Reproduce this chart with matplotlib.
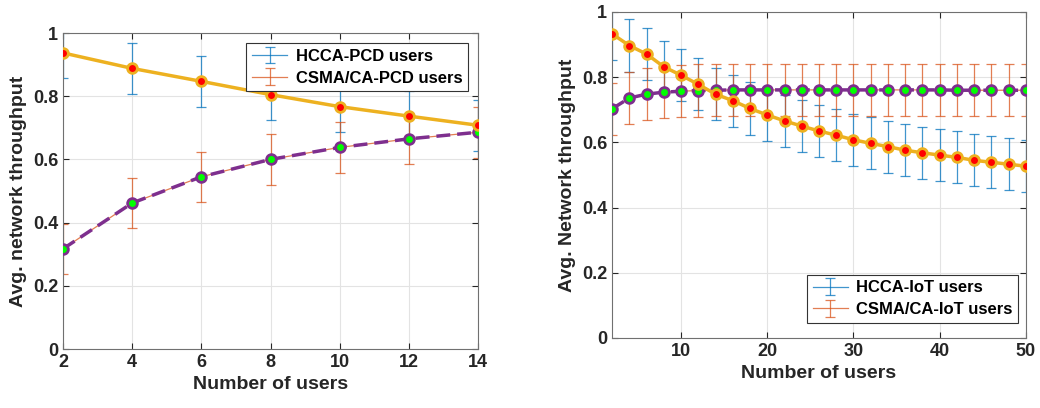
import numpy as np
import matplotlib
matplotlib.use("Agg")
from matplotlib import pyplot as plt

plt.rcParams['font.family'] = ['Liberation Sans', 'DejaVu Sans']
plt.rcParams['font.weight'] = 'bold'

# left panel: PCD users
pcd_users = [2, 4, 6, 8, 10, 12, 14]
hcca_pcd = [0.937, 0.888, 0.847, 0.805, 0.767, 0.737, 0.708]
csma_pcd = [0.317, 0.462, 0.545, 0.600, 0.638, 0.665, 0.686]
hcca_pcd_err = [0.08, 0.08, 0.08, 0.08, 0.08, 0.08, 0.08]
csma_pcd_err = [0.08, 0.08, 0.08, 0.08, 0.08, 0.08, 0.08]

# right panel: IoT users
iot_users = list(range(2, 51, 2))
hcca_iot = [0.933, 0.897, 0.871, 0.832, 0.806, 0.778, 0.748, 0.728, 0.704,
            0.684, 0.666, 0.650, 0.635, 0.622, 0.608, 0.597, 0.587, 0.576,
            0.568, 0.561, 0.554, 0.545, 0.539, 0.533, 0.527]
csma_iot = [0.703, 0.736, 0.748, 0.754, 0.757, 0.759, 0.760, 0.761, 0.761,
            0.761, 0.761, 0.761, 0.761, 0.761, 0.761, 0.761, 0.761, 0.761,
            0.761, 0.761, 0.760, 0.760, 0.760, 0.760, 0.760]
hcca_iot_err = [0.08] * 25
csma_iot_err = [0.08] * 25

BLUE = "#0072BD"
RED_ORANGE = "#D95319"
YELLOW = "#EDB120"
PURPLE = "#7E2F8E"


def draw(ax, x, hcca, hcca_err, csma, csma_err, labels, ylabel, loc, bbox):
    ax.errorbar(x, hcca, yerr=hcca_err, color=BLUE, lw=0.9, capsize=3.5,
                elinewidth=0.9, capthick=0.9, alpha=0.75, label=labels[0], zorder=2)
    ax.errorbar(x, csma, yerr=csma_err, color=RED_ORANGE, lw=0.9, capsize=3.5,
                elinewidth=0.9, capthick=0.9, alpha=0.75, label=labels[1], zorder=2)
    ax.plot(x, hcca, color=YELLOW, lw=2.5, marker="o", ms=7, mfc="red",
            mec=YELLOW, mew=2, zorder=4)
    ax.plot(x, csma, color=PURPLE, lw=2.5, ls=(0, (4, 2)), marker="o", ms=7,
            mfc="#00ff00", mec=PURPLE, mew=2, zorder=3)
    ax.set_ylim(0, 1)
    ax.set_yticks([0, 0.2, 0.4, 0.6, 0.8, 1])
    ax.set_yticklabels(["0", "0.2", "0.4", "0.6", "0.8", "1"])
    ax.grid(True, color="#e3e3e3", lw=0.8)
    ax.set_axisbelow(True)
    ax.tick_params(direction="in", top=True, right=True, labelsize=13,
                   colors="#262626", length=4)
    for s in ax.spines.values():
        s.set_color("#707070")
    ax.set_xlabel("Number of users", fontsize=14, fontweight="bold", color="#262626")
    ax.set_ylabel(ylabel, fontsize=14, fontweight="bold", color="#262626")
    leg = ax.legend(loc=loc, bbox_to_anchor=bbox, fontsize=12, fancybox=False,
                    framealpha=1, edgecolor="#333333", handlelength=2.1,
                    borderpad=0.35, labelspacing=0.4, handletextpad=0.5,
                    borderaxespad=0)
    leg.get_frame().set_linewidth(0.8)


fig = plt.figure(figsize=(10.4, 4.08), dpi=100)
ax1 = fig.add_axes([0.0606, 0.1446, 0.399, 0.7745])
ax2 = fig.add_axes([0.5885, 0.1716, 0.398, 0.799])

draw(ax1, pcd_users, hcca_pcd, hcca_pcd_err, csma_pcd, csma_pcd_err,
     ["HCCA-PCD users", "CSMA/CA-PCD users"], "Avg. network throughput",
     "upper right", (0.976, 0.968))
ax1.set_xlim(2, 14)
ax1.set_xticks([2, 4, 6, 8, 10, 12, 14])

draw(ax2, iot_users, hcca_iot, hcca_iot_err, csma_iot, csma_iot_err,
     ["HCCA-IoT users", "CSMA/CA-IoT users"], "Avg. Network throughput",
     "lower right", (0.981, 0.046))
ax2.set_xlim(2, 50)
ax2.set_xticks([10, 20, 30, 40, 50])

fig.savefig("out.png", dpi=100)
